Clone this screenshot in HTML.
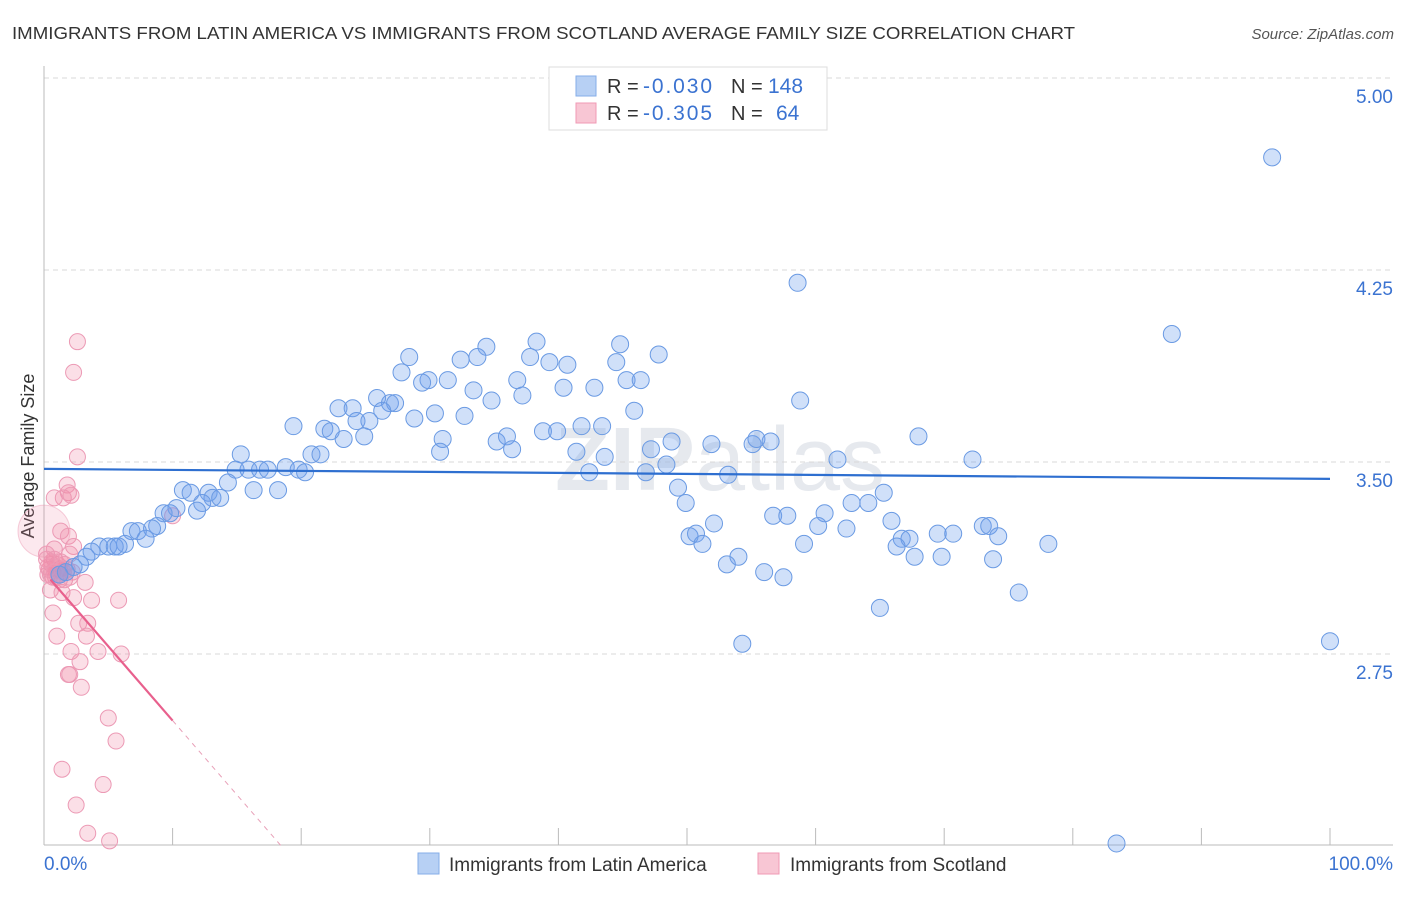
<!DOCTYPE html>
<html><head><meta charset="utf-8"><style>
body{margin:0;background:#fff;font-family:"Liberation Sans",sans-serif;}
svg text{font-family:"Liberation Sans",sans-serif;}
</style></head><body>
<svg id="chart" width="1406" height="892" xmlns="http://www.w3.org/2000/svg">
<text x="12" y="39" font-size="17.5" fill="#333" textLength="1063" lengthAdjust="spacingAndGlyphs">IMMIGRANTS FROM LATIN AMERICA VS IMMIGRANTS FROM SCOTLAND AVERAGE FAMILY SIZE CORRELATION CHART</text>
<text x="1394" y="39" font-size="15" fill="#555" font-style="italic" text-anchor="end">Source: ZipAtlas.com</text>
<text x="34" y="456" font-size="18" fill="#333" text-anchor="middle" transform="rotate(-90 34 456)">Average Family Size</text>
<text x="720" y="490" font-size="90" fill="#e6e9ee" text-anchor="middle" font-weight="bold">ZIP<tspan font-weight="normal">atlas</tspan></text>
<g id="grid"></g>
<g id="axes"></g>
<g id="pinkpts"></g>
<g id="bluepts"></g>
<g id="trends"></g>
<g>
<rect x="549" y="67" width="278" height="63" fill="#fff" stroke="#ddd"/>
<rect x="576" y="76" width="20" height="20" fill="#b7d0f4" stroke="#86aee8"/>
<rect x="576" y="103" width="20" height="20" fill="#f8c6d4" stroke="#f09ab5"/>
<text x="607" y="93" font-size="20" fill="#333">R = <tspan x="643" fill="#3b73d1" textLength="69" font-size="21">-0.030</tspan><tspan x="731">N = </tspan><tspan fill="#3b73d1" x="768" font-size="21">148</tspan></text>
<text x="607" y="120" font-size="20" fill="#333">R = <tspan x="643" fill="#3b73d1" textLength="69" font-size="21">-0.305</tspan><tspan x="731">N = </tspan><tspan fill="#3b73d1" x="776" font-size="21">64</tspan></text>
</g>
<g>
<rect x="418" y="853" width="21" height="21" fill="#b7d0f4" stroke="#86aee8"/>
<text x="449" y="871" font-size="19" fill="#333">Immigrants from Latin America</text>
<rect x="758" y="853" width="21" height="21" fill="#f8c6d4" stroke="#f09ab5"/>
<text x="790" y="871" font-size="19" fill="#333">Immigrants from Scotland</text>
</g>
</svg>
<script>
const yTicks=[5.00,4.25,3.50,2.75];
const xTickCount=[0,10,20,30,40,50,60,70,80,90,100];
const blueX=[95.5,58.6,87.7,38.3,44.8,34.4,28.4,47.8,37.8,32.4,39.3,40.7,44.5,33.7,27.8,29.9,31.4,29.4,36.8,45.3,46.4,40.4,42.8,33.4,37.2,34.8,25.9,26.9,27.3,58.8,22.9,24.0,26.3,45.9,30.4,32.7,28.8,24.3,25.3,19.4,21.8,22.3,38.8,39.9,41.8,43.4,24.9,23.3,31.0,35.2,36.0,36.4,48.8,51.9,47.2,55.1,55.4,56.5,68.0,30.8,15.3,20.8,21.5,43.6,41.4,61.7,72.2,14.9,15.9,16.8,17.4,18.8,19.8,20.3,42.4,46.8,48.4,53.2,14.3,16.3,18.2,10.8,11.4,12.8,13.1,13.7,12.3,49.3,49.9,62.8,64.1,65.3,10.3,11.9,9.3,9.8,56.7,57.8,60.7,65.9,8.8,8.4,6.8,7.3,52.1,60.2,73.0,62.4,73.5,50.2,50.7,69.5,70.7,66.7,67.3,74.2,7.9,6.3,51.2,59.1,66.3,78.1,4.3,5.0,5.5,5.8,3.7,3.3,54.0,67.7,69.8,73.8,53.1,2.8,2.3,1.7,56.0,57.5,75.8,65.0,54.3,100,83.4,1.2];
const blueY=[4.69,4.20,4.00,3.97,3.96,3.95,3.91,3.92,3.91,3.90,3.89,3.88,3.89,3.91,3.85,3.82,3.82,3.81,3.82,3.82,3.82,3.79,3.79,3.78,3.76,3.74,3.75,3.73,3.73,3.74,3.71,3.71,3.70,3.70,3.69,3.68,3.67,3.66,3.66,3.64,3.63,3.62,3.62,3.62,3.64,3.64,3.60,3.59,3.59,3.58,3.60,3.55,3.58,3.57,3.55,3.57,3.59,3.58,3.60,3.54,3.53,3.53,3.53,3.52,3.54,3.51,3.51,3.47,3.47,3.47,3.47,3.48,3.47,3.46,3.46,3.46,3.49,3.45,3.42,3.39,3.39,3.39,3.38,3.38,3.36,3.36,3.34,3.40,3.34,3.34,3.34,3.38,3.32,3.31,3.30,3.30,3.29,3.29,3.30,3.27,3.25,3.24,3.23,3.23,3.26,3.25,3.25,3.24,3.25,3.21,3.22,3.22,3.22,3.20,3.20,3.21,3.20,3.18,3.18,3.18,3.17,3.18,3.17,3.17,3.17,3.17,3.15,3.13,3.13,3.13,3.13,3.12,3.10,3.10,3.09,3.07,3.07,3.05,2.99,2.93,2.79,2.80,2.01,3.06];
const pinkX=[2.6,2.3,2.6,1.8,1.9,1.5,2.1,0.8,10.0,1.3,1.9,2.3,0.8,2.0,0.2,0.8,0.6,1.2,0.3,0.9,1.6,3.2,0.5,1.4,2.3,3.7,5.8,0.7,2.7,3.4,1.0,3.3,4.2,6.0,2.1,2.8,1.9,2.0,2.9,5.0,5.6,1.4,4.6,2.5,3.4,5.1,0.4,1.0,1.5,0.6,1.1,0.3,1.8,0.7,1.3,2.2,0.9,0.5,1.6,1.2,0.2,2.0,1.4,0.8];
const pinkY=[3.97,3.85,3.52,3.41,3.38,3.36,3.37,3.36,3.29,3.23,3.21,3.17,3.16,3.14,3.14,3.12,3.10,3.08,3.06,3.05,3.04,3.03,3.00,2.99,2.97,2.96,2.96,2.91,2.87,2.87,2.82,2.82,2.76,2.75,2.76,2.72,2.67,2.67,2.62,2.50,2.41,2.30,2.24,2.16,2.05,2.02,3.08,3.10,3.07,3.11,3.06,3.09,3.08,3.05,3.11,3.07,3.09,3.06,3.10,3.04,3.12,3.05,3.08,3.07];
const blueTrend=[3.473,3.434];
const pinkTrend=[3.07,-0.058];
const NS='http://www.w3.org/2000/svg';
const sx=v=>44+v*12.86;
const sy=v=>78+(5-v)*256;
function mk(tag,attrs,parent){const e=document.createElementNS(NS,tag);for(const k in attrs)e.setAttribute(k,attrs[k]);parent.appendChild(e);return e;}
const grid=document.getElementById('grid'),axes=document.getElementById('axes');
yTicks.forEach(v=>{
 const l=mk('line',{x1:44,x2:1393,y1:sy(v),y2:sy(v),stroke:'#d8d8d8','stroke-dasharray':'5,4'},grid);
 
 
 const t=mk('text',{x:1393,y:sy(v)+25,'font-size':19,fill:'#3b73d1','text-anchor':'end'},grid);
 t.textContent=v.toFixed(2);
 
 
});
const ya=mk('line',{x1:44,x2:44,y1:66,y2:845,stroke:'#bbb'},axes);


const xa=mk('line',{x1:44,x2:1393,y1:845,y2:845,stroke:'#bbb'},axes);


xTickCount.forEach(v=>{
 const t=mk('line',{x1:sx(v),x2:sx(v),y1:828,y2:845,stroke:'#bbb'},axes);
 
 
});
const xl0=mk('text',{x:44,y:870,'font-size':19,fill:'#3b73d1'},axes);xl0.textContent='0.0%';


const xl1=mk('text',{x:1393,y:870,'font-size':19,fill:'#3b73d1','text-anchor':'end'},axes);xl1.textContent='100.0%';


const pg=document.getElementById('pinkpts');
mk('circle',{cx:sx(0),cy:sy(3.23),r:26,fill:'rgba(240,140,170,0.2)',stroke:'rgba(232,137,168,0.4)'},pg);
pinkX.forEach((x,i)=>{
 const c=mk('circle',{cx:sx(x),cy:sy(pinkY[i]),r:8,fill:'rgba(240,140,170,0.28)',stroke:'#ec9ab5','stroke-width':1},pg);
 
 
});
const bg=document.getElementById('bluepts');
blueX.forEach((x,i)=>{
 const c=mk('circle',{cx:sx(x),cy:sy(blueY[i]),r:8.5,fill:'rgba(110,160,235,0.32)',stroke:'#6a9ae3','stroke-width':1},bg);
 
 
});
const tg=document.getElementById('trends');
const bl=mk('line',{x1:sx(0),y1:sy(blueTrend[0]),x2:sx(100),y2:sy(blueTrend[1]),stroke:'#2e6fd0','stroke-width':2.2},tg);


const pf=x=>pinkTrend[0]+pinkTrend[1]*x;
const pl=mk('line',{x1:sx(0.5),y1:sy(pf(0.5)),x2:sx(10),y2:sy(pf(10)),stroke:'#e8608d','stroke-width':2.2},tg);


const xEnd=(pinkTrend[0]-2)/(-pinkTrend[1]);
const pd=mk('line',{x1:sx(10),y1:sy(pf(10)),x2:sx(xEnd),y2:sy(2),stroke:'#e8a0b8','stroke-width':1,'stroke-dasharray':'5,5'},tg);


</script>
</body></html>
